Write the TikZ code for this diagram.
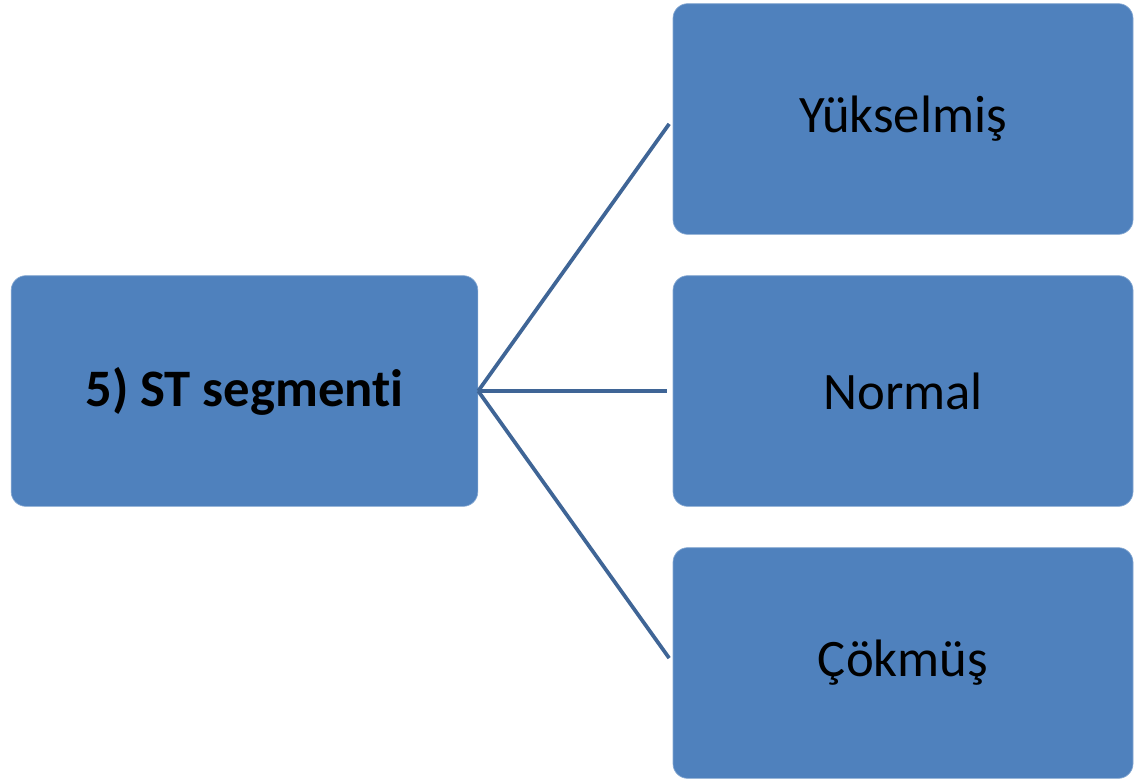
\documentclass[tikz,border=0pt]{standalone}
\usepackage{fontspec}
\setmainfont{Carlito}[Ligatures=NoCommon]
\usepackage{xcolor}
\definecolor{boxblue}{HTML}{4F81BD}
\definecolor{lineblue}{HTML}{3F6596}

\begin{document}
\begin{tikzpicture}[x=0.75pt,y=-0.75pt]
		\tikzstyle{every node}+=[inner sep=0pt]
		\tikzstyle{stbox}=[fill=boxblue, draw=boxblue!70!white, line width=0.5pt, rounded corners=11pt, minimum height=173pt, font=\fontsize{39.5}{47}\selectfont]
		\tikzstyle{link}=[draw=lineblue, line width=2.8pt, shorten >=4.5pt]
		\useasboundingbox (0,0) rectangle (1134,779);
		\node [stbox, minimum width=350pt] (st) at (244.5,391) {\textbf{5) ST segmenti}};
		\node [stbox, minimum width=345pt] (yuk) at (903,119) {Yükselmiş};
		\node [stbox, minimum width=345pt] (nor) at (903,391) {Normal};
		\node [stbox, minimum width=345pt] (cok) at (903,663) {Çökmüş};
		\draw [link] (st.east) -- (yuk.west);
		\draw [link] (st.east) -- (nor.west);
		\draw [link] (st.east) -- (cok.west);
	\end{tikzpicture}
\end{document}
